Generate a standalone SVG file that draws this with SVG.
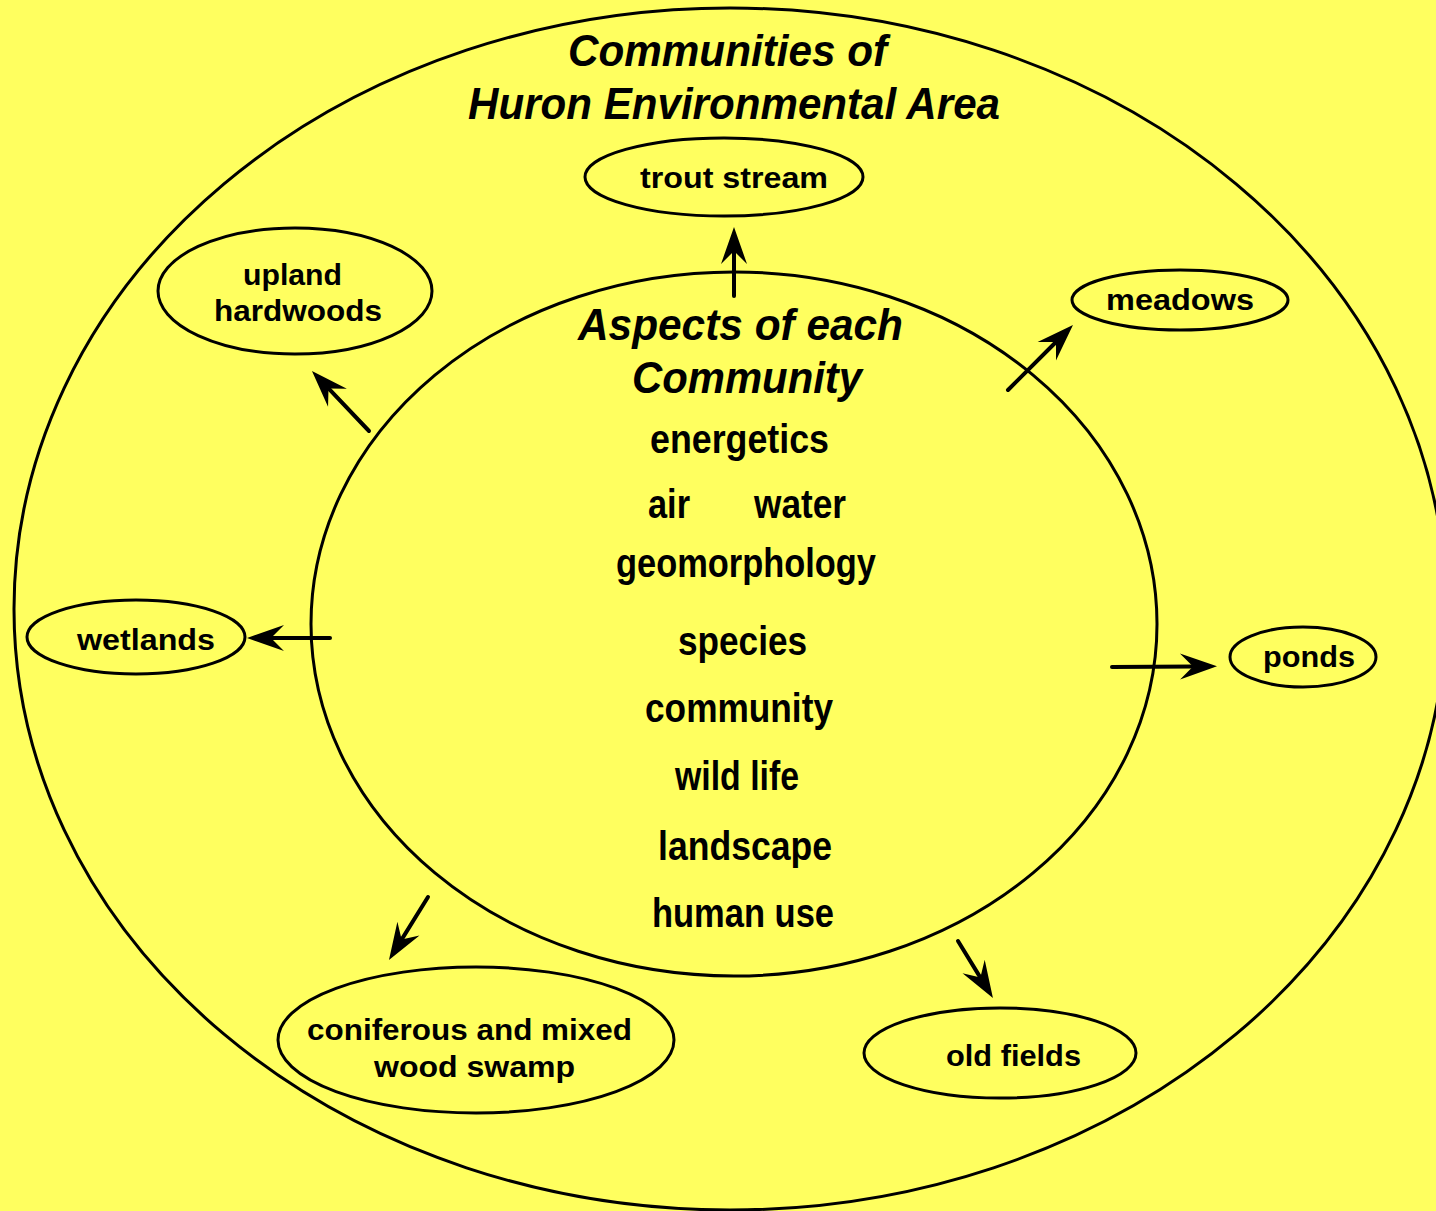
<svg xmlns="http://www.w3.org/2000/svg" width="1436" height="1211" viewBox="0 0 1436 1211">
<defs>
<style>
.ring{fill:none;stroke:#000;stroke-width:3}
.node{fill:none;stroke:#000;stroke-width:3}
.title{font-family:"Liberation Sans",Arial,sans-serif;font-weight:bold;font-style:italic;font-size:45px;fill:#000}
.item{font-family:"Liberation Sans",Arial,sans-serif;font-weight:bold;font-size:40px;fill:#000}
.lbl{font-family:"Liberation Sans",Arial,sans-serif;font-weight:bold;font-size:30px;fill:#000}
.conn{stroke:#000;stroke-width:4;stroke-linecap:round;fill:none;marker-end:url(#arr)}
</style>
<marker id="arr" markerUnits="userSpaceOnUse" viewBox="-40 -16 44 32" markerWidth="44" markerHeight="32" refX="-24" refY="0" orient="auto" overflow="visible">
<path d="M0,0 L-37,-13 L-24,0 L-37,13 Z" fill="#000"/>
</marker>
</defs>
<rect width="1436" height="1211" fill="#ffff5f"/>
<ellipse class="ring" cx="730" cy="609" rx="716" ry="601"/>
<ellipse class="ring" cx="734" cy="624" rx="423" ry="352"/>
<g id="title">
<text class="title" x="568" y="66" textLength="319" lengthAdjust="spacingAndGlyphs">Communities of</text>
<text class="title" x="468" y="119" textLength="532" lengthAdjust="spacingAndGlyphs">Huron Environmental Area</text>
</g>
<g id="aspects">
<text class="title" x="578" y="340" textLength="325" lengthAdjust="spacingAndGlyphs">Aspects of each</text>
<text class="title" x="632" y="393" textLength="230" lengthAdjust="spacingAndGlyphs">Community</text>
<text class="item" x="650" y="453" textLength="179" lengthAdjust="spacingAndGlyphs">energetics</text>
<text class="item" x="648" y="518" textLength="42" lengthAdjust="spacingAndGlyphs">air</text>
<text class="item" x="754" y="518" textLength="92" lengthAdjust="spacingAndGlyphs">water</text>
<text class="item" x="616" y="577" textLength="260" lengthAdjust="spacingAndGlyphs">geomorphology</text>
<text class="item" x="678" y="655" textLength="129" lengthAdjust="spacingAndGlyphs">species</text>
<text class="item" x="645" y="722" textLength="188" lengthAdjust="spacingAndGlyphs">community</text>
<text class="item" x="675" y="790" textLength="124" lengthAdjust="spacingAndGlyphs">wild life</text>
<text class="item" x="658" y="860" textLength="174" lengthAdjust="spacingAndGlyphs">landscape</text>
<text class="item" x="652" y="927" textLength="182" lengthAdjust="spacingAndGlyphs">human use</text>
</g>
<g id="trout-stream">
<ellipse class="node" cx="724" cy="177" rx="139" ry="39"/>
<text class="lbl" x="640" y="188" textLength="188" lengthAdjust="spacingAndGlyphs">trout stream</text>
</g>
<g id="upland-hardwoods">
<ellipse class="node" cx="295" cy="291" rx="137" ry="63"/>
<text class="lbl" x="243" y="285" textLength="99" lengthAdjust="spacingAndGlyphs">upland</text>
<text class="lbl" x="214" y="321" textLength="168" lengthAdjust="spacingAndGlyphs">hardwoods</text>
</g>
<g id="meadows">
<ellipse class="node" cx="1180" cy="300" rx="108" ry="30"/>
<text class="lbl" x="1106" y="310" textLength="148" lengthAdjust="spacingAndGlyphs">meadows</text>
</g>
<g id="wetlands">
<ellipse class="node" cx="136" cy="637" rx="109" ry="37"/>
<text class="lbl" x="77" y="650" textLength="138" lengthAdjust="spacingAndGlyphs">wetlands</text>
</g>
<g id="ponds">
<ellipse class="node" cx="1303" cy="657" rx="73" ry="30"/>
<text class="lbl" x="1263" y="667" textLength="92" lengthAdjust="spacingAndGlyphs">ponds</text>
</g>
<g id="coniferous-swamp">
<ellipse class="node" cx="476" cy="1040" rx="198" ry="73"/>
<text class="lbl" x="307" y="1040" textLength="325" lengthAdjust="spacingAndGlyphs">coniferous and mixed</text>
<text class="lbl" x="374" y="1077" textLength="201" lengthAdjust="spacingAndGlyphs">wood swamp</text>
</g>
<g id="old-fields">
<ellipse class="node" cx="1000" cy="1053" rx="136" ry="45"/>
<text class="lbl" x="946" y="1066" textLength="135" lengthAdjust="spacingAndGlyphs">old fields</text>
</g>
<g id="connectors">
<line class="conn" x1="734" y1="296" x2="734" y2="251"/>
<line class="conn" x1="369" y1="431" x2="328.5" y2="388.4"/>
<line class="conn" x1="1008" y1="390" x2="1056" y2="342"/>
<line class="conn" x1="330" y1="638" x2="271" y2="638"/>
<line class="conn" x1="1112" y1="667" x2="1193" y2="666.5"/>
<line class="conn" x1="428" y1="897" x2="401.6" y2="939.6"/>
<line class="conn" x1="958" y1="941" x2="980.4" y2="977.6"/>
</g>
</svg>
